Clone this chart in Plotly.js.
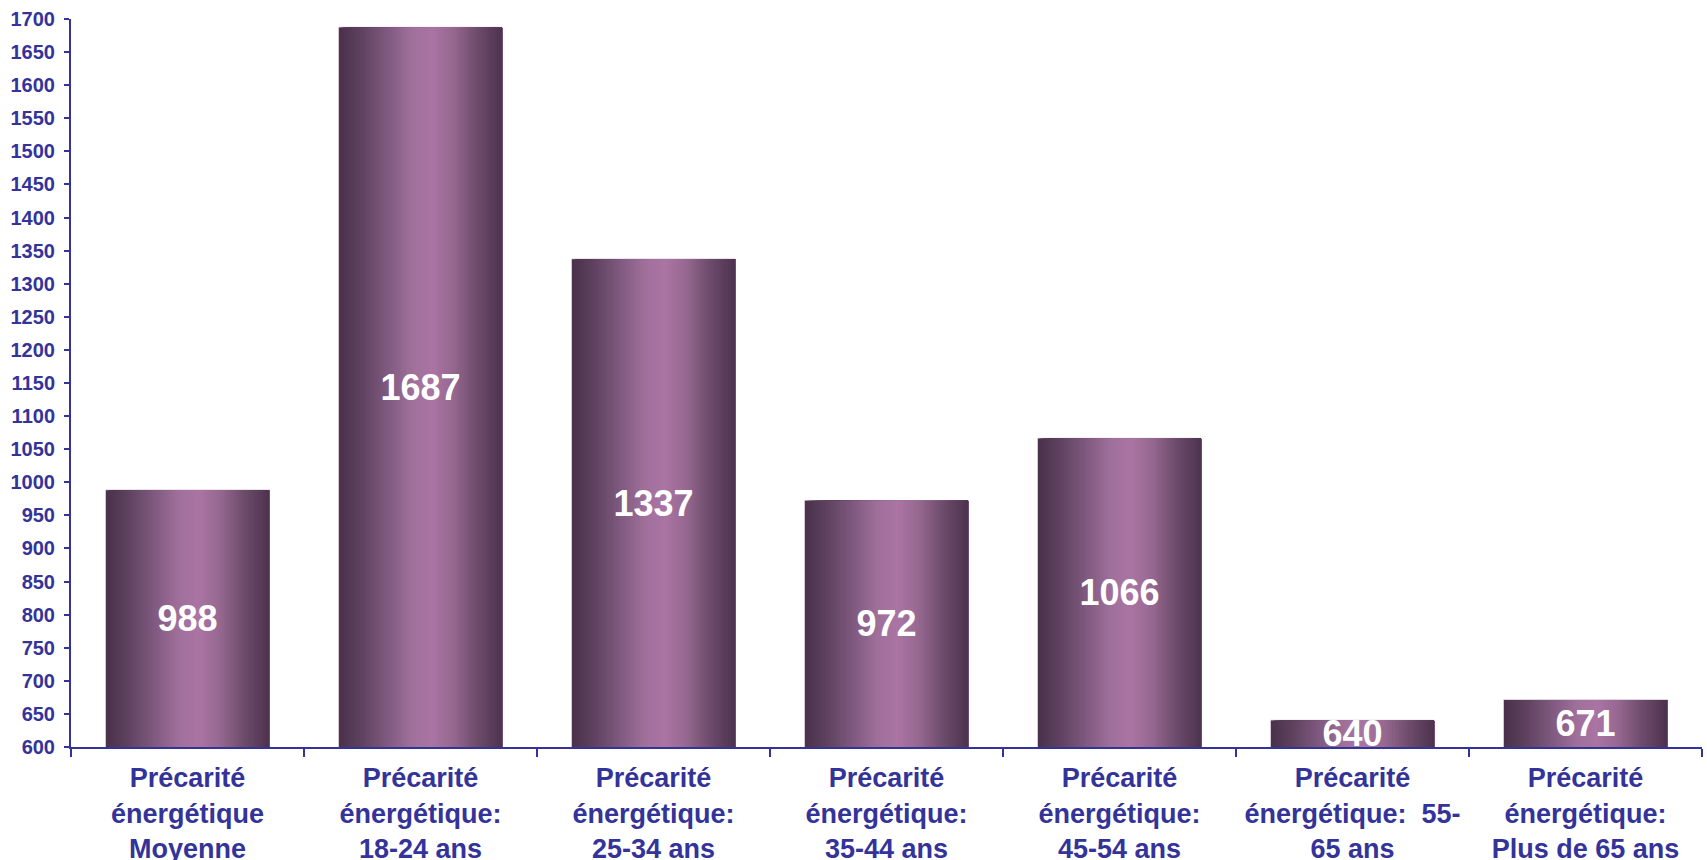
<!DOCTYPE html>
<html>
<head>
<meta charset="utf-8">
<script src="https://cdn.plot.ly/plotly-3.0.1.min.js"></script>
<style>
  html, body { margin: 0; padding: 0; background: #ffffff; }
  #chart { width: 1707px; height: 860px; }
</style>
</head>
<body>
<div id="chart"></div>
<script>
// ---- data ----
const categories = [
  "Précarité<br>énergétique<br>Moyenne",
  "Précarité<br>énergétique:<br>18-24 ans",
  "Précarité<br>énergétique:<br>25-34 ans",
  "Précarité<br>énergétique:<br>35-44 ans",
  "Précarité<br>énergétique:<br>45-54 ans",
  "Précarité<br>énergétique:  55-<br>65 ans",
  "Précarité<br>énergétique:<br>Plus de 65 ans"
];
const values = [988, 1687, 1337, 972, 1066, 640, 671];
const valueLabels = ["988", "1687", "1337", "972", "1066", "640", "671"];
const yMin = 600;
const yMax = 1700;

// ---- style ----
const axisColor = "#333399";
const fontFamily = "Liberation Sans, Arial, sans-serif";
const barWidth = 0.7;
const nStrips = 70;
const gradStops = [
  [0.00, [74, 49, 74]],
  [0.12, [92, 64, 92]],
  [0.30, [128, 90, 128]],
  [0.45, [160, 112, 155]],
  [0.57, [170, 117, 163]],
  [0.70, [150, 104, 144]],
  [0.85, [108, 75, 106]],
  [1.00, [76, 51, 78]]
];
function gradColor(t) {
  for (let i = 1; i < gradStops.length; i++) {
    if (t <= gradStops[i][0]) {
      const a = gradStops[i - 1], b = gradStops[i];
      const f = (t - a[0]) / (b[0] - a[0]);
      const c = a[1].map((v, k) => Math.round(v + (b[1][k] - v) * f));
      return `rgb(${c[0]},${c[1]},${c[2]})`;
    }
  }
  const c = gradStops[gradStops.length - 1][1];
  return `rgb(${c[0]},${c[1]},${c[2]})`;
}

// bars drawn from the axis floor (yMin) up to each value
const heights = values.map(v => v - yMin);

const traces = [];
// outline bar
traces.push({
  type: "bar", x: categories, y: heights, base: yMin,
  width: barWidth, offset: -barWidth / 2,
  marker: { color: "rgb(74,49,74)", line: { color: "#d8c6d8", width: 1.5 } },
  hoverinfo: "skip", showlegend: false
});
// gradient strips (each extends to the right edge, drawn left to right)
const step = barWidth / nStrips;
for (let i = 0; i < nStrips; i++) {
  traces.push({
    type: "bar", x: categories, y: heights, base: yMin,
    width: barWidth - i * step,
    offset: -barWidth / 2 + i * step,
    marker: { color: gradColor((i + 0.5) / nStrips), line: { width: 0 } },
    hoverinfo: "skip", showlegend: false
  });
}
// labels
traces.push({
  type: "bar", x: categories, y: heights, base: yMin,
  width: barWidth, offset: -barWidth / 2,
  marker: { color: "rgba(0,0,0,0)", line: { width: 0 } },
  text: valueLabels,
  textposition: "inside",
  insidetextanchor: "middle",
  constraintext: "none",
  textangle: 0,
  insidetextfont: { family: fontFamily, size: 36, color: "#ffffff", weight: "bold" },
  hoverinfo: "skip", showlegend: false
});

const layout = {
  width: 1707, height: 860,
  margin: { l: 71, r: 5, t: 19, b: 113 },
  paper_bgcolor: "#ffffff",
  plot_bgcolor: "#ffffff",
  barmode: "overlay",
  showlegend: false,
  xaxis: {
    type: "category",
    showgrid: false,
    showline: true, linecolor: axisColor, linewidth: 2,
    ticks: "outside", tickson: "boundaries", ticklen: 8, tickwidth: 2, tickcolor: axisColor,
    tickfont: { family: fontFamily, size: 27, color: axisColor, weight: "bold" },
    ticklabelstandoff: 6,
    tickangle: 0,
    automargin: false,
    fixedrange: true
  },
  yaxis: {
    range: [yMin, yMax],
    dtick: 50, tick0: yMin,
    showgrid: false, zeroline: false,
    showline: true, linecolor: axisColor, linewidth: 2,
    ticks: "outside", ticklen: 5, tickwidth: 2, tickcolor: axisColor,
    tickfont: { family: fontFamily, size: 20, color: axisColor, weight: "bold" },
    ticklabelstandoff: 5,
    automargin: false,
    fixedrange: true
  }
};

Plotly.newPlot("chart", traces, layout, { displayModeBar: false, staticPlot: true });
</script>
</body>
</html>
